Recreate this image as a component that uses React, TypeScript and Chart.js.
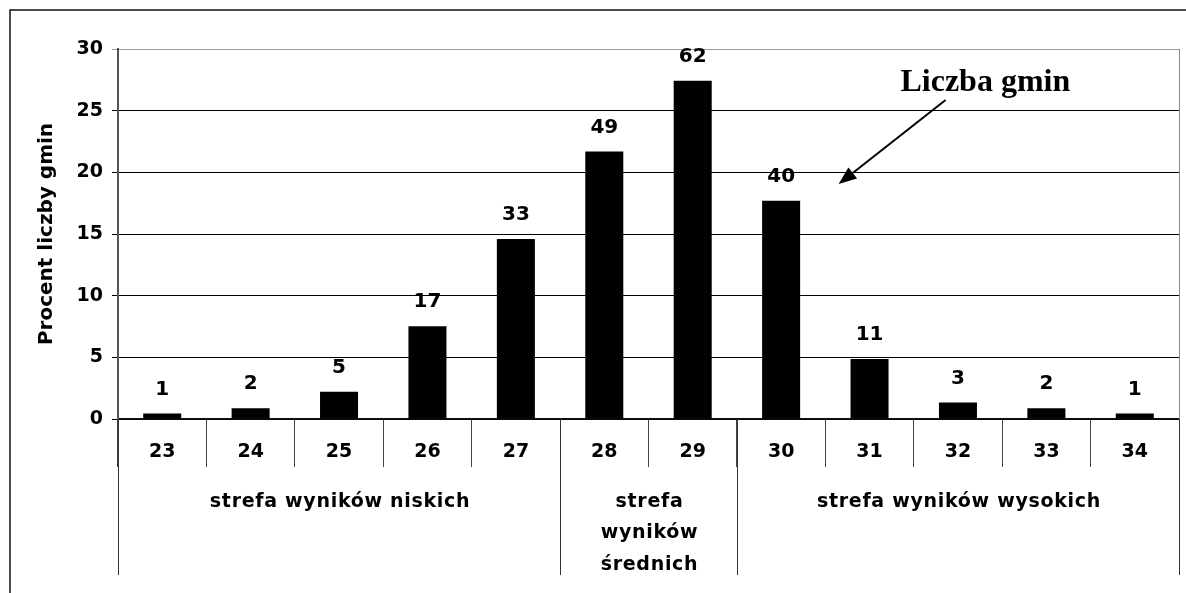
import React, { useEffect, useRef } from 'react';
import { Chart, registerables } from 'chart.js';

Chart.register(...registerables);

// ---- data ----
const categories = ['23', '24', '25', '26', '27', '28', '29', '30', '31', '32', '33', '34'];
const percentValues = [0.44, 0.88, 2.21, 7.52, 14.6, 21.68, 27.43, 17.7, 4.87, 1.33, 0.88, 0.44];
const countLabels = ['1', '2', '5', '17', '33', '49', '62', '40', '11', '3', '2', '1'];
const yMin = 0;
const yMax = 30;
const yStep = 5;
const yTitle = 'Procent liczby gmin';
const zoneLabels = [['strefa wyników niskich'], ['strefa', 'wyników', 'średnich'], ['strefa wyników wysokich']];
const zoneFirstIndex = [0, 5, 7];
const zoneLastIndex = [4, 6, 11];
const annotationText = 'Liczba gmin';
// annotation anchors in data space: [category index, value]
const annotationTextAt = [9.31, 27.3];
const arrowFrom = [8.86, 25.87];
const arrowTo = [7.65, 19.05];

const SANS = "'DejaVu Sans', 'Liberation Sans', Arial, sans-serif";
const SERIF = "'Liberation Serif', 'Times New Roman', serif";

const decorPlugin = {
  id: 'decor',
  afterDraw(chart: any) {
    const { ctx, chartArea } = chart;
    const xs = chart.scales.x;
    const ys = chart.scales.y;
    ctx.save();

    // outer frame
    ctx.strokeStyle = '#111';
    ctx.lineWidth = 1.5;
    ctx.beginPath();
    ctx.moveTo(10, 593);
    ctx.lineTo(10, 10);
    ctx.lineTo(1186, 10);
    ctx.stroke();

    // plot right border
    ctx.strokeStyle = '#888';
    ctx.lineWidth = 1;
    ctx.beginPath();
    ctx.moveTo(Math.round(chartArea.right) + 0.5, chartArea.top);
    ctx.lineTo(Math.round(chartArea.right) + 0.5, chartArea.bottom);
    ctx.stroke();

    // zone boundary lines
    const groupBottom = chartArea.bottom + 156;
    ctx.strokeStyle = '#333';
    ctx.lineWidth = 1;
    const bounds = [zoneFirstIndex[0] - 0.5, ...zoneLastIndex.map((v) => v + 0.5)];
    bounds.forEach((b) => {
      const x = Math.round(xs.getPixelForValue(b)) + 0.5;
      ctx.beginPath();
      ctx.moveTo(x, chartArea.bottom);
      ctx.lineTo(x, groupBottom);
      ctx.stroke();
    });

    // zone labels
    ctx.fillStyle = '#000';
    ctx.font = `bold 19px ${SANS}`;
    ctx.textAlign = 'center';
    ctx.textBaseline = 'middle';
    (ctx as any).letterSpacing = '0.7px';
    zoneLabels.forEach((lines, i) => {
      const x0 = xs.getPixelForValue(zoneFirstIndex[i] - 0.5);
      const x1 = xs.getPixelForValue(zoneLastIndex[i] + 0.5);
      const cx = (x0 + x1) / 2;
      lines.forEach((t, j) => {
        ctx.fillText(t, cx + 1, chartArea.bottom + 83 + j * 31.5);
      });
    });
    (ctx as any).letterSpacing = '0px';

    // annotation
    ctx.font = `bold 32px ${SERIF}`;
    ctx.textAlign = 'center';
    ctx.textBaseline = 'middle';
    ctx.fillText(annotationText, xs.getPixelForValue(annotationTextAt[0]), ys.getPixelForValue(annotationTextAt[1]));
    const ax0 = xs.getPixelForValue(arrowFrom[0]);
    const ay0 = ys.getPixelForValue(arrowFrom[1]);
    const ax1 = xs.getPixelForValue(arrowTo[0]);
    const ay1 = ys.getPixelForValue(arrowTo[1]);
    const ang = Math.atan2(ay1 - ay0, ax1 - ax0);
    const headLen = 18;
    const headHalf = 7;
    const bx = ax1 - headLen * Math.cos(ang);
    const by = ay1 - headLen * Math.sin(ang);
    ctx.strokeStyle = '#000';
    ctx.lineWidth = 2;
    ctx.beginPath();
    ctx.moveTo(ax0, ay0);
    ctx.lineTo(bx, by);
    ctx.stroke();
    ctx.beginPath();
    ctx.moveTo(ax1, ay1);
    ctx.lineTo(bx + headHalf * Math.sin(ang), by - headHalf * Math.cos(ang));
    ctx.lineTo(bx - headHalf * Math.sin(ang), by + headHalf * Math.cos(ang));
    ctx.closePath();
    ctx.fillStyle = '#000';
    ctx.fill();

    ctx.restore();
  },
  afterDatasetsDraw(chart: any) {
    const { ctx } = chart;
    const meta = chart.getDatasetMeta(0);
    ctx.save();
    ctx.fillStyle = '#000';
    ctx.font = `bold 20px ${SANS}`;
    ctx.textAlign = 'center';
    ctx.textBaseline = 'middle';
    meta.data.forEach((bar: any, i: number) => {
      ctx.fillText(countLabels[i], bar.x, bar.y - 24);
    });
    ctx.restore();
  },
};

export default function App() {
  const ref = useRef<HTMLCanvasElement>(null);
  useEffect(() => {
    if (!ref.current) return;
    const chart = new Chart(ref.current, {
      type: 'bar',
      data: {
        labels: categories,
        datasets: [
          {
            data: percentValues,
            backgroundColor: '#000',
            borderWidth: 0,
            barPercentage: 0.43,
            categoryPercentage: 1.0,
          },
        ],
      },
      options: {
        responsive: false,
        animation: false,
        layout: { padding: { left: 0, top: 49, right: 7, bottom: 0 } },
        plugins: { legend: { display: false }, tooltip: { enabled: false } },
        scales: {
          x: {
            type: 'category',
            offset: true,
            grid: {
              offset: true,
              drawOnChartArea: false,
              drawTicks: true,
              tickLength: 48,
              color: '#444',
              lineWidth: 1,
            },
            border: { display: true, color: '#111', width: 1.5 },
            ticks: {
              color: '#000',
              font: { family: SANS, size: 19, weight: 'bold' },
              padding: -26,
              maxRotation: 0,
              autoSkip: false,
            },
            afterFit: (s: any) => {
              s.height = 174;
            },
          },
          y: {
            min: yMin,
            max: yMax,
            ticks: {
              stepSize: yStep,
              color: '#000',
              font: { family: SANS, size: 19, weight: 'bold' },
              padding: 9,
            },
            grid: {
              color: (c: any) => (c.tick && c.tick.value === yMax ? '#999' : '#000'),
              lineWidth: 1,
              tickLength: 6,
              drawTicks: true,
            },
            border: { display: true, color: '#555', width: 2 },
            title: {
              display: true,
              text: yTitle,
              color: '#000',
              font: { family: SANS, size: 20, weight: 'bold' },
              padding: { top: 35, bottom: 0 },
            },
            afterFit: (s: any) => {
              s.width = 118;
            },
          },
        },
      },
      plugins: [decorPlugin],
    });
    return () => chart.destroy();
  }, []);
  return (
    <canvas
      ref={ref}
      width={1186}
      height={593}
      style={{ position: 'fixed', left: 0, top: 0, display: 'block', background: '#fff' }}
    />
  );
}
